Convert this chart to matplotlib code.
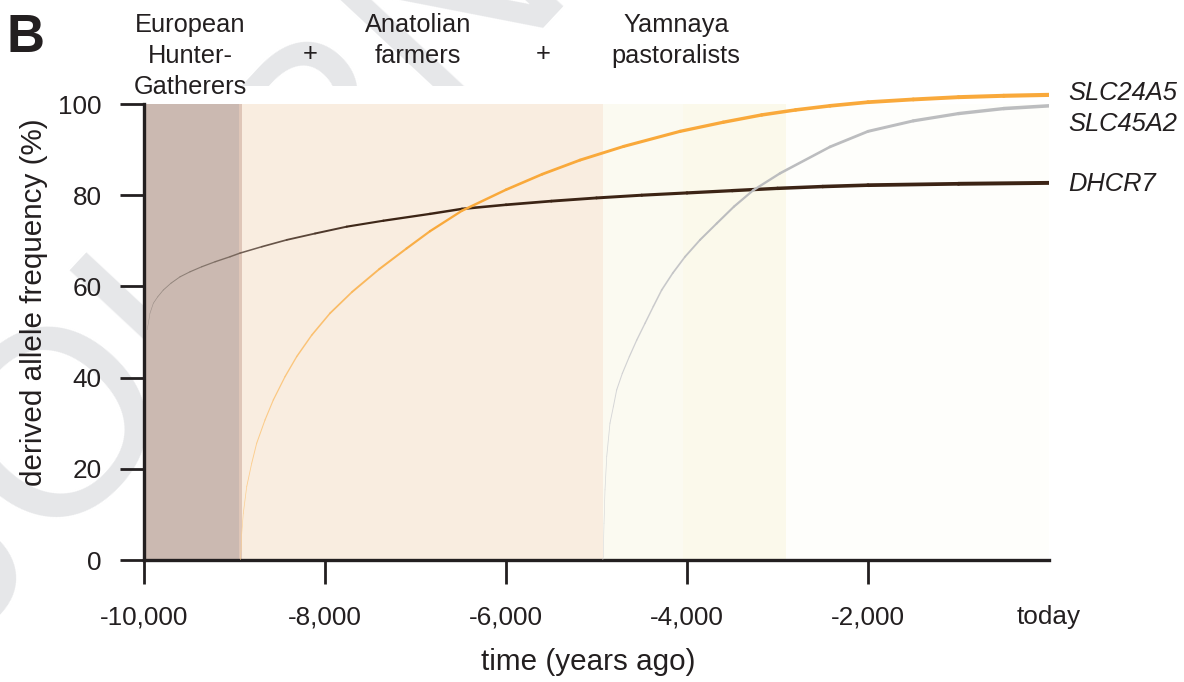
import numpy as np
import matplotlib

matplotlib.use("Agg")
import matplotlib.pyplot as plt
from matplotlib.collections import LineCollection
from matplotlib.colors import to_rgb

plt.rcParams["font.family"] = ["Liberation Sans", "DejaVu Sans"]

# allele frequency trajectories (years before today, % derived allele)
dhcr7_years = [-9965, -9952, -9934, -9897, -9849, -9787, -9702, -9602, -9492, -9363,
               -9215, -9050, -8939, -8699, -8423, -8110, -7760, -7356, -6840, -6486,
               -6000, -5500, -5000, -4500, -4000, -3500, -3000, -2500, -2000, -1000, 0]
dhcr7_freq = [50.5, 51.9, 54.1, 56.3, 57.7, 59.2, 60.7, 62.1, 63.2, 64.3,
              65.4, 66.5, 67.3, 68.7, 70.2, 71.6, 73.1, 74.4, 75.9, 77.0,
              77.9, 78.7, 79.4, 80.0, 80.5, 81.0, 81.5, 81.9, 82.2, 82.5, 82.7]

slc24a5_years = [-8935, -8928, -8920, -8903, -8865, -8810, -8755, -8663, -8571, -8442,
                 -8313, -8147, -7945, -7700, -7400, -7100, -6840, -6486, -6000, -5600,
                 -5182, -4700, -4077, -3600, -3175, -2800, -2420, -2000, -1500, -1000,
                 -500, 0]
slc24a5_freq = [0.0, 2.0, 5.8, 10.2, 16.1, 21.2, 25.6, 30.7, 35.1, 40.2,
                44.6, 49.3, 54.1, 58.8, 63.8, 68.3, 72.1, 76.6, 81.2, 84.6,
                87.7, 90.7, 94.0, 96.0, 97.6, 98.7, 99.6, 100.4, 101.0, 101.5,
                101.8, 102.0]

slc45a2_years = [-4930, -4925, -4917, -4906, -4887, -4851, -4814, -4777, -4715, -4637,
                 -4556, -4464, -4372, -4280, -4158, -4022, -3856, -3672, -3481, -3267,
                 -2972, -2420, -2000, -1500, -1000, -500, 0]
slc45a2_freq = [0.0, 0.7, 8.0, 15.4, 22.7, 30.0, 33.6, 37.3, 40.9, 44.6,
                48.2, 51.9, 55.6, 59.2, 62.9, 66.5, 70.2, 73.8, 77.5, 81.1,
                84.8, 90.6, 94.0, 96.3, 97.9, 99.0, 99.6]

# ancestry periods shaded behind the curves
period_starts = [-10000, -8950, -8920, -4930, -4040, -2910]
period_ends = [-8950, -8920, -4930, -4040, -2910, 0]
period_colors = ["#cbb9b1", "#dfc6b8", "#f9ede0", "#fbfaf1", "#fbf9eb", "#fefefb"]

populations = [["European", "Hunter-", "Gatherers"], ["Anatolian", "farmers"], ["Yamnaya", "pastoralists"]]
pop_x = [190, 418, 676]
plus_x = [310, 543]

genes = ["SLC24A5", "SLC45A2", "DHCR7"]
gene_label_y = [102.4, 95.6, 82.5]

xticks = [-10000, -8000, -6000, -4000, -2000, 0]
xticklabels = ["-10,000", "-8,000", "-6,000", "-4,000", "-2,000", "today"]
yticks = [0, 20, 40, 60, 80, 100]

INK = "#231f20"
W, H = 1184, 682


def tapered(ax, x, y, color, w0, w1, fade):
    # line that starts thin and pale and gets thicker towards today
    x = np.asarray(x, float)
    y = np.asarray(y, float)
    pts = np.column_stack([x, y])
    segs = np.stack([pts[:-1], pts[1:]], axis=1)
    mid = (x[:-1] + x[1:]) / 2
    f = (mid - x[0]) / (x[-1] - x[0])
    widths = w0 + (w1 - w0) * np.sqrt(f)
    k = fade * (1 - np.clip(f * 4, 0, 1))
    base = np.array(to_rgb(color))
    cols = [tuple(base + (1 - base) * kk) for kk in k]
    lc = LineCollection(segs, linewidths=widths, colors=cols, capstyle="round", joinstyle="round", zorder=3)
    ax.add_collection(lc)


fig = plt.figure(figsize=(W / 100, H / 100), dpi=100)

# faint watermark behind everything
fig.text(-41 / W, (H - 655) / H, "JOURNAL PRE-PROOF", fontsize=190, color="#e6e7e9",
         rotation=47, rotation_mode="anchor", ha="left", va="baseline", zorder=-1)

ax = fig.add_axes([144 / W, (H - 560) / H, 905 / W, 104 * 4.56 / H])
ax.set_facecolor("white")
ax.set_xlim(-10000, 0)
ax.set_ylim(0, 104)

for a, b, c in zip(period_starts, period_ends, period_colors):
    ax.axvspan(a, b, ymin=0, ymax=100 / 104, color=c, lw=0, zorder=0)

tapered(ax, dhcr7_years, dhcr7_freq, "#3c2415", 0.2, 2.9, 0.5)
tapered(ax, slc24a5_years, slc24a5_freq, "#f9a93b", 0.3, 3.0, 0.45)
tapered(ax, slc45a2_years, slc45a2_freq, "#bcbdbf", 0.3, 2.6, 0.4)

for g, gy in zip(genes, gene_label_y):
    ax.text(210, gy, g, fontsize=18.4, style="italic", color=INK, ha="left", va="center", clip_on=False)

for s in ["top", "right"]:
    ax.spines[s].set_visible(False)
for s in ["left", "bottom"]:
    ax.spines[s].set_linewidth(2.4)
    ax.spines[s].set_color(INK)
ax.spines["left"].set_bounds(0, 100)

ax.set_xticks(xticks)
ax.set_xticklabels(xticklabels)
ax.set_yticks(yticks)
ax.tick_params(direction="out", length=17.5, width=2, color=INK, labelcolor=INK, labelsize=18.8, pad=13)
ax.tick_params(axis="x", pad=15)
ax.xaxis.get_major_ticks()[-1].tick1line.set_visible(False)

ax.set_xlabel("time (years ago)", fontsize=21.3, color=INK)
ax.set_ylabel("derived allele frequency (%)", fontsize=21.3, color=INK)
ax.xaxis.set_label_coords((588 - 144) / 905, (560 - 648) / 474)
ax.yaxis.set_label_coords((48 - 144) / 905, (560 - 302) / 474)

line_base = [32, 63, 94]
for names, px in zip(populations, pop_x):
    for name, py in zip(names, line_base):
        fig.text(px / W, (H - py) / H, name, fontsize=18.3, color=INK, ha="center", va="baseline")
for px in plus_x:
    fig.text(px / W, (H - 61) / H, "+", fontsize=18.3, color=INK, ha="center", va="baseline")

fig.text(7 / W, (H - 52) / H, "B", fontsize=38, fontweight="bold", color=INK, ha="left", va="baseline")

fig.savefig("out.png", dpi=100)
plt.close(fig)
print("saved out.png")
